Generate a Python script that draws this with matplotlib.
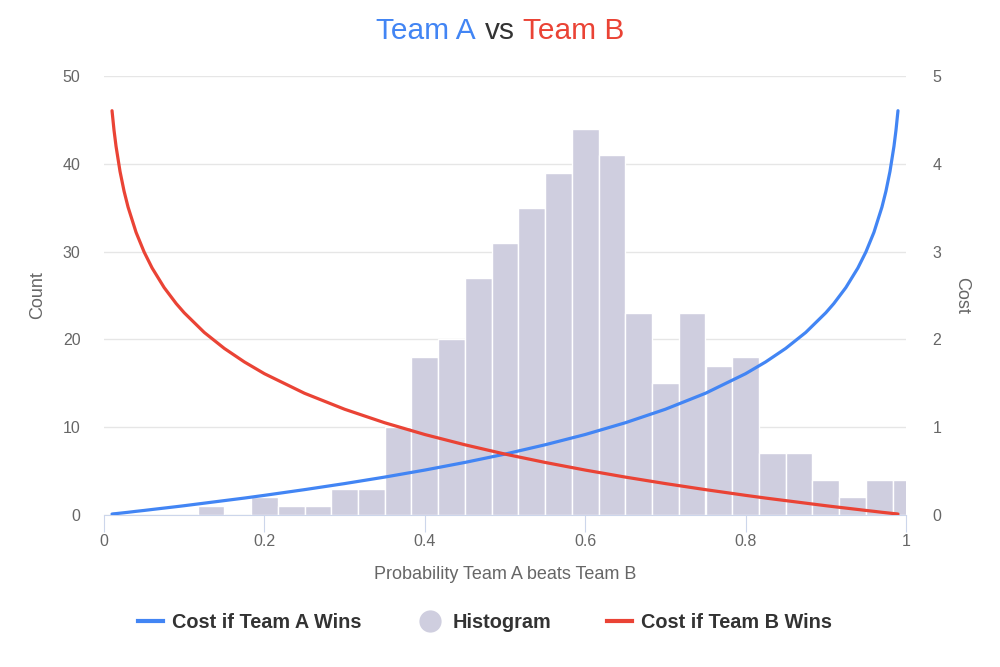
import matplotlib
matplotlib.use("Agg")
from matplotlib import pyplot as plt
from matplotlib.lines import Line2D

# histogram: bins centred on k/30, k = 0..30
bin_centers = [k / 30 for k in range(31)]
counts = [0, 0, 0, 0, 1, 0, 2, 1, 1, 3, 3, 10, 18, 20, 27, 31,
          35, 39, 44, 41, 23, 15, 23, 17, 18, 7, 7, 4, 2, 4, 4]

# cost curves
prob = [0.01, 0.0125, 0.015, 0.02, 0.025, 0.03, 0.04, 0.05, 0.06, 0.075,
        0.09, 0.1, 0.125, 0.15, 0.175, 0.2, 0.25, 0.3, 0.35, 0.4, 0.45,
        0.5, 0.55, 0.6, 0.65, 0.7, 0.75, 0.8, 0.825, 0.85, 0.875, 0.9,
        0.91, 0.925, 0.94, 0.95, 0.96, 0.97, 0.975, 0.98, 0.985, 0.9875, 0.99]
cost_a = [0.010, 0.013, 0.015, 0.020, 0.025, 0.030, 0.041, 0.051, 0.062, 0.078,
          0.094, 0.105, 0.134, 0.163, 0.192, 0.223, 0.288, 0.357, 0.431, 0.511,
          0.598, 0.693, 0.799, 0.916, 1.050, 1.204, 1.386, 1.609, 1.743, 1.897,
          2.079, 2.303, 2.408, 2.590, 2.813, 2.996, 3.219, 3.507, 3.689, 3.912,
          4.200, 4.382, 4.605]
cost_b = [4.605, 4.382, 4.200, 3.912, 3.689, 3.507, 3.219, 2.996, 2.813, 2.590,
          2.408, 2.303, 2.079, 1.897, 1.743, 1.609, 1.386, 1.204, 1.050, 0.916,
          0.799, 0.693, 0.598, 0.511, 0.431, 0.357, 0.288, 0.223, 0.192, 0.163,
          0.134, 0.105, 0.094, 0.078, 0.062, 0.051, 0.041, 0.030, 0.025, 0.020,
          0.015, 0.013, 0.010]

x_ticks = [0, 0.2, 0.4, 0.6, 0.8, 1]
x_tick_labels = ["0", "0.2", "0.4", "0.6", "0.8", "1"]

BLUE = "#4285f4"
RED = "#ea4335"
BAR = "#cfcedf"
GREY = "#666666"
AXIS = "#ccd6eb"

plt.rcParams["font.family"] = ["Liberation Sans", "DejaVu Sans"]

fig = plt.figure(figsize=(10, 6.67), dpi=100)
ax = fig.add_axes([0.104, 0.228, 0.802, 0.658])
ax2 = ax.twinx()

ax.bar(bin_centers, counts, width=1 / 30, color=BAR, edgecolor="white",
       linewidth=1.0, zorder=2)
ax.set_xlim(0, 1)
ax.set_ylim(0, 50)
ax.set_yticks([0, 10, 20, 30, 40, 50])
ax.grid(axis="y", color="#e6e6e6", linewidth=1, zorder=0)
ax.set_axisbelow(True)
ax.set_xticks(x_ticks)
ax.set_xticklabels(x_tick_labels)

ax2.plot(prob, cost_a, color=BLUE, linewidth=2.3, solid_capstyle="round")
ax2.plot(prob, cost_b, color=RED, linewidth=2.3, solid_capstyle="round")
ax2.set_ylim(0, 5)
ax2.set_yticks([0, 1, 2, 3, 4, 5])

for a in (ax, ax2):
    for s in ("top", "left", "right"):
        a.spines[s].set_visible(False)
    a.spines["bottom"].set_color(AXIS)
    a.tick_params(axis="y", length=0, labelsize=11.5, labelcolor=GREY)
ax2.spines["bottom"].set_visible(False)
ax.tick_params(axis="y", pad=17)
ax2.tick_params(axis="y", pad=19)
ax.tick_params(axis="x", length=12, color=AXIS, labelsize=11.5,
               labelcolor=GREY, pad=2)

ax.set_ylabel("Count", fontsize=13, color=GREY, labelpad=12)
ax2.set_ylabel("Cost", fontsize=13, color=GREY, rotation=270, labelpad=21)
ax.set_xlabel("Probability Team A beats Team B", fontsize=13, color=GREY,
              labelpad=12)

# title in three colours
fig.text(0.5, 0.953, "vs", fontsize=21.5, color="#333333", ha="center", va="center")
fig.text(0.476, 0.953, "Team A", fontsize=21.5, color=BLUE, ha="right", va="center")
fig.text(0.523, 0.953, "Team B", fontsize=21.5, color=RED, ha="left", va="center")

handles = [
    Line2D([], [], color=BLUE, linewidth=3),
    Line2D([], [], color=BAR, marker="o", linestyle="none", markersize=15),
    Line2D([], [], color=RED, linewidth=3),
]
labels = ["Cost if Team A Wins", "Histogram", "Cost if Team B Wins"]
fig.legend(handles, labels, loc="center", bbox_to_anchor=(0.485, 0.067),
           ncol=3, frameon=False, handlelength=1.3, handletextpad=0.45,
           columnspacing=2.8, prop={"weight": "bold", "size": 14.3},
           labelcolor="#333333")

fig.savefig("out.png", dpi=100)
